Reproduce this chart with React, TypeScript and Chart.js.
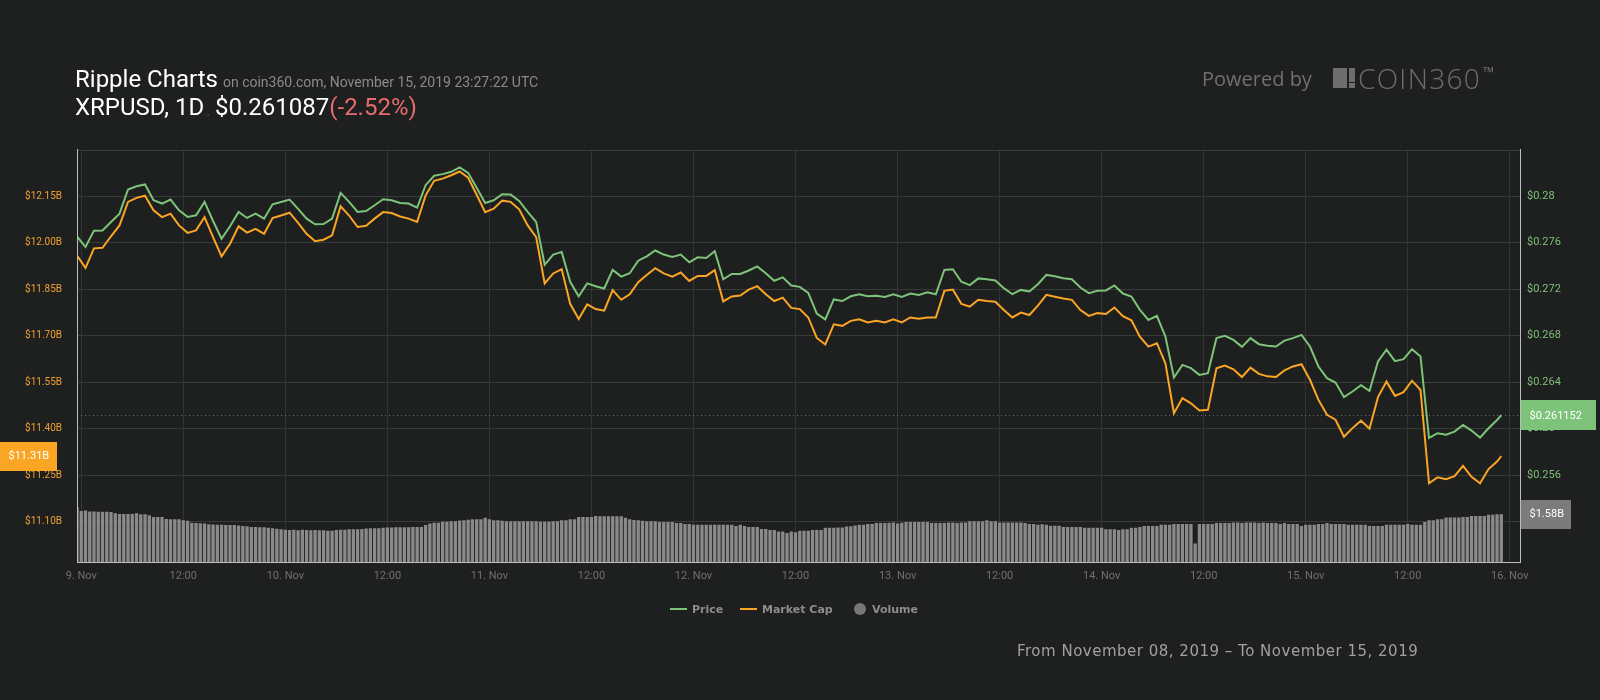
import React, { useEffect, useRef } from "react";
import { Chart, registerables } from "chart.js";

Chart.register(...registerables);

// ---------------- data ----------------
const seriesNames = ["Price", "Market Cap", "Volume"];

const xTickLabels = [
  "9. Nov", "12:00", "10. Nov", "12:00", "11. Nov", "12:00", "12. Nov", "12:00",
  "13. Nov", "12:00", "14. Nov", "12:00", "15. Nov", "12:00", "16. Nov",
];

const capTicksB = [11.1, 11.25, 11.4, 11.55, 11.7, 11.85, 12.0, 12.15];
const priceTicksUSD = [0.256, 0.26, 0.264, 0.268, 0.272, 0.276, 0.28];

// hourly samples, hours from 9 Nov 00:00 UTC: -0.5, 0.5, ... 166.5, then 167
const priceUSD = [
  0.27655, 0.27563, 0.27704, 0.27706, 0.27778, 0.2785, 0.28058, 0.28086, 0.28101, 0.27965,
  0.27937, 0.27971, 0.27879, 0.27822, 0.27836, 0.27951, 0.27787, 0.27634, 0.27741, 0.27865,
  0.27813, 0.2785, 0.27807, 0.27931, 0.27951, 0.27971, 0.27891, 0.27807, 0.27758, 0.27761,
  0.27807, 0.28029, 0.27951, 0.27865, 0.27873, 0.27922, 0.27974, 0.27965, 0.27942, 0.27937,
  0.27902, 0.28095, 0.28176, 0.2819, 0.2821, 0.28248, 0.28201, 0.28072, 0.27942, 0.27965,
  0.28017, 0.28014, 0.2796, 0.27865, 0.27778,
  0.2741, 0.27498, 0.27521, 0.27264, 0.27139, 0.2725, 0.27226, 0.27206, 0.27366, 0.27308,
  0.27337, 0.27445, 0.27483, 0.27533, 0.27498, 0.27477, 0.27498, 0.27431, 0.27474, 0.27469,
  0.27527, 0.27285, 0.27331, 0.27331, 0.27361, 0.27396, 0.27337, 0.27273, 0.27302, 0.27232,
  0.2722, 0.27168, 0.2699, 0.2694, 0.27112, 0.27098, 0.27139, 0.27156, 0.27139, 0.27144,
  0.27133, 0.27156, 0.27133, 0.27162, 0.2715, 0.27174, 0.27156, 0.27366, 0.27372, 0.27264,
  0.27235, 0.27293,
  0.27286, 0.27275, 0.27209, 0.27157, 0.27194, 0.2718, 0.27243, 0.27323, 0.27312, 0.27295,
  0.27286, 0.27214, 0.27166, 0.27186, 0.27189, 0.27232, 0.27163, 0.27137, 0.27022, 0.26936,
  0.26971, 0.26793, 0.2644, 0.26549, 0.26521, 0.26463, 0.26478, 0.26779, 0.26799, 0.26764,
  0.26704, 0.26779, 0.26727, 0.26713, 0.26707, 0.26758, 0.26779, 0.26807, 0.26707, 0.26535,
  0.26435, 0.26397,
  0.26271, 0.2632, 0.26374, 0.26325, 0.26578, 0.26679, 0.26581, 0.26598, 0.26684, 0.26621,
  0.2592, 0.25961, 0.25949, 0.25975, 0.26032, 0.25984, 0.25923, 0.26004, 0.26075, 0.261152,
];

const marketCapB = [
  11.959, 11.919, 11.982, 11.984, 12.021, 12.056, 12.132, 12.145, 12.152, 12.105,
  12.083, 12.094, 12.056, 12.032, 12.04, 12.083, 12.018, 11.956, 11.997, 12.053,
  12.033, 12.045, 12.029, 12.08, 12.088, 12.097, 12.064, 12.029, 12.005, 12.01,
  12.024, 12.118, 12.088, 12.051, 12.055, 12.078, 12.099, 12.096, 12.085, 12.078,
  12.067, 12.153, 12.2, 12.207, 12.218, 12.23, 12.21, 12.155, 12.099, 12.11,
  12.136, 12.132, 12.108, 12.056, 12.018,
  11.869, 11.901, 11.915, 11.803, 11.754, 11.801, 11.786, 11.781, 11.847, 11.816,
  11.834, 11.873, 11.896, 11.918, 11.901, 11.891, 11.904, 11.877, 11.893, 11.893,
  11.912, 11.811, 11.827, 11.83, 11.849, 11.86, 11.834, 11.812, 11.823, 11.79,
  11.786, 11.759, 11.693, 11.672, 11.737, 11.732, 11.748, 11.753, 11.743, 11.748,
  11.743, 11.753, 11.743, 11.759, 11.755, 11.759, 11.759, 11.845, 11.849, 11.803,
  11.794, 11.816,
  11.812, 11.81, 11.783, 11.759, 11.775, 11.767, 11.797, 11.832, 11.826, 11.82,
  11.816, 11.783, 11.764, 11.773, 11.77, 11.791, 11.763, 11.75, 11.697, 11.665,
  11.676, 11.611, 11.45, 11.499, 11.482, 11.459, 11.461, 11.595, 11.604, 11.592,
  11.567, 11.597, 11.577, 11.569, 11.567, 11.588, 11.601, 11.608, 11.558, 11.493,
  11.445, 11.429,
  11.374, 11.402, 11.426, 11.4, 11.502, 11.552, 11.506, 11.518, 11.555, 11.525,
  11.224, 11.243, 11.237, 11.247, 11.28, 11.245, 11.224, 11.27, 11.294, 11.312,
];

// half-hourly 24h volume (billions USD), hours -0.5, 0, 0.5 ... 167
const volumeB = [
  1.82, 1.69, 1.7, 1.67, 1.67, 1.66, 1.66, 1.66, 1.65, 1.61, 1.59, 1.59,
  1.59, 1.59, 1.61, 1.58, 1.58, 1.55, 1.49, 1.49, 1.49, 1.42, 1.41, 1.41,
  1.41, 1.38, 1.36, 1.3, 1.29, 1.28, 1.27, 1.25, 1.24, 1.23, 1.23, 1.22,
  1.22, 1.22, 1.21, 1.19, 1.18, 1.16, 1.16, 1.15, 1.15, 1.13, 1.12, 1.1,
  1.08, 1.07, 1.06, 1.07, 1.05, 1.07, 1.06, 1.05, 1.06, 1.05, 1.05, 1.03,
  1.03, 1.06, 1.07, 1.07, 1.08, 1.08, 1.08, 1.09, 1.11, 1.12, 1.12, 1.12,
  1.13, 1.14, 1.14, 1.15, 1.15, 1.15, 1.15, 1.16, 1.16, 1.16, 1.22, 1.27,
  1.3, 1.3, 1.33, 1.33, 1.35, 1.35, 1.37, 1.38, 1.4, 1.41, 1.41, 1.41,
  1.46, 1.41, 1.38, 1.38, 1.36, 1.35, 1.35, 1.35, 1.35, 1.35, 1.35, 1.35,
  1.35, 1.33, 1.33, 1.33, 1.35, 1.35, 1.38, 1.38, 1.41, 1.41, 1.49, 1.49,
  1.49, 1.49, 1.52, 1.51, 1.51, 1.51, 1.51, 1.51, 1.51, 1.46, 1.41, 1.39,
  1.38, 1.36, 1.35, 1.35, 1.35, 1.32, 1.32, 1.32, 1.32, 1.29, 1.29, 1.26,
  1.26, 1.23, 1.23, 1.23, 1.23, 1.23, 1.23, 1.23, 1.23, 1.23, 1.23, 1.19,
  1.23, 1.19, 1.16, 1.16, 1.16, 1.09, 1.09, 1.06, 1.06, 1.01, 1.01, 0.96,
  1.01, 0.98, 1.03, 1.03, 1.03, 1.06, 1.06, 1.06, 1.13, 1.13, 1.13, 1.14,
  1.14, 1.17, 1.18, 1.21, 1.23, 1.23, 1.26, 1.26, 1.29, 1.29, 1.29, 1.3,
  1.31, 1.27, 1.3, 1.32, 1.32, 1.32, 1.32, 1.32, 1.32, 1.29, 1.29, 1.29,
  1.29, 1.31, 1.31, 1.29, 1.31, 1.31, 1.35, 1.35, 1.35, 1.35, 1.38, 1.35,
  1.35, 1.31, 1.31, 1.31, 1.31, 1.31, 1.31, 1.29, 1.26, 1.26, 1.23, 1.25,
  1.23, 1.2, 1.2, 1.2, 1.16, 1.16, 1.16, 1.16, 1.16, 1.13, 1.13, 1.13,
  1.13, 1.13, 1.08, 1.08, 1.08, 1.06, 1.08, 1.08, 1.13, 1.13, 1.16, 1.19,
  1.19, 1.19, 1.19, 1.23, 1.23, 1.23, 1.26, 1.26, 1.26, 1.26, 1.26, 0.61,
  1.26, 1.26, 1.26, 1.26, 1.29, 1.29, 1.29, 1.29, 1.31, 1.31, 1.29, 1.31,
  1.31, 1.31, 1.29, 1.31, 1.29, 1.29, 1.29, 1.26, 1.29, 1.26, 1.26, 1.26,
  1.19, 1.23, 1.23, 1.23, 1.26, 1.26, 1.29, 1.26, 1.26, 1.26, 1.26, 1.23,
  1.23, 1.23, 1.23, 1.23, 1.19, 1.19, 1.19, 1.19, 1.23, 1.23, 1.23, 1.23,
  1.23, 1.26, 1.23, 1.23, 1.23, 1.32, 1.38, 1.38, 1.41, 1.41, 1.47, 1.47,
  1.47, 1.47, 1.49, 1.49, 1.52, 1.52, 1.52, 1.52, 1.56, 1.56, 1.58, 1.58,
];

// ---------------- style ----------------
const BG = "#1e1f1f";
const GRID = "#393a3a";
const VGRID = "#333434";
const AXIS_LINE = "#bdbdbd";
const GREEN = "#7dc47a";
const ORANGE = "#fba524";
const VOL = "#8a8a8a";
const FIRST_HOUR = -0.5;
const LAST_HOUR = 167;

const lineHour = (i: number) => Math.min(FIRST_HOUR + i, LAST_HOUR);
const volHour = (i: number) => FIRST_HOUR + i * 0.5;

const overlayPlugin = {
  id: "overlay",
  beforeDatasetsDraw(chart: any) {
    const { ctx, chartArea: a, scales } = chart;
    ctx.save();
    ctx.strokeStyle = GRID;
    ctx.lineWidth = 1;
    ctx.beginPath();
    ctx.moveTo(a.left, Math.round(a.top) + 0.5);
    ctx.lineTo(a.right, Math.round(a.top) + 0.5);
    ctx.stroke();
    const py = scales.yPrice.getPixelForValue(priceUSD[priceUSD.length - 1]);
    ctx.setLineDash([1, 3]);
    ctx.strokeStyle = "#6c6c6c";
    ctx.beginPath();
    ctx.moveTo(a.left, Math.round(py) + 0.5);
    ctx.lineTo(a.right, Math.round(py) + 0.5);
    ctx.stroke();
    ctx.restore();
  },
  afterDraw(chart: any) {
    const { ctx, chartArea: a, scales } = chart;
    const box = (x: number, yc: number, w: number, h: number, fill: string, text: string) => {
      ctx.save();
      ctx.fillStyle = fill;
      ctx.fillRect(x, Math.round(yc - h / 2), w, h);
      ctx.fillStyle = "#ffffff";
      ctx.font = "11px Roboto";
      ctx.textBaseline = "middle";
      ctx.textAlign = "left";
      ctx.fillText(text, x + 8.5, yc + 0.5);
      ctx.restore();
    };
    const lastPrice = priceUSD[priceUSD.length - 1];
    const lastCap = marketCapB[marketCapB.length - 1];
    const lastVol = volumeB[volumeB.length - 1];
    box(a.right + 1, scales.yPrice.getPixelForValue(lastPrice), 75, 30, GREEN, `$${lastPrice}`);
    box(0, scales.yCap.getPixelForValue(lastCap), 57, 29, ORANGE, `$${lastCap.toFixed(2)}B`);
    box(a.right + 1, scales.yVol.getPixelForValue(lastVol), 50, 29, "#7b7b7b", `$${lastVol.toFixed(2)}B`);
  },
};

export default function App() {
  const ref = useRef<HTMLCanvasElement>(null);

  useEffect(() => {
    if (!ref.current) return;
    Chart.defaults.font.family = "Roboto";
    const chart = new Chart(ref.current, {
      type: "line",
      data: {
        datasets: [
          {
            type: "line",
            label: seriesNames[0],
            data: priceUSD.map((v, i) => ({ x: lineHour(i), y: v })),
            yAxisID: "yPrice",
            borderColor: GREEN,
            borderWidth: 2,
            pointRadius: 0,
            tension: 0,
            order: 1,
          },
          {
            type: "line",
            label: seriesNames[1],
            data: marketCapB.map((v, i) => ({ x: lineHour(i), y: v })),
            yAxisID: "yCap",
            borderColor: ORANGE,
            borderWidth: 2,
            pointRadius: 0,
            tension: 0,
            order: 2,
          },
          {
            type: "bar",
            label: seriesNames[2],
            data: volumeB.map((v, i) => ({ x: volHour(i), y: v })),
            yAxisID: "yVol",
            backgroundColor: VOL,
            borderWidth: 0,
            barPercentage: 0.78,
            categoryPercentage: 1,
            order: 3,
          },
        ] as any,
      },
      options: {
        animation: false,
        responsive: false,
        layout: { padding: { top: 149.5, left: 0, right: 0, bottom: 0 } },
        plugins: { legend: { display: false }, tooltip: { enabled: false } },
        scales: {
          x: {
            type: "linear",
            min: -0.5,
            max: 169.2,
            offset: false,
            grid: { color: VGRID, drawTicks: false, offset: false },
            border: { display: true, color: AXIS_LINE, z: 1 },
            ticks: {
              color: "#707070",
              font: { size: 11 },
              padding: 8,
              autoSkip: false,
              maxRotation: 0,
              callback: (v: any) => xTickLabels[Math.round(Number(v) / 12)] ?? "",
            },
            afterBuildTicks: (s: any) => {
              s.ticks = xTickLabels.map((_, i) => ({ value: i * 12 }));
            },
            afterFit: (s: any) => {
              s.height = 138;
            },
          },
          yCap: {
            type: "linear",
            position: "left",
            min: 10.97,
            max: 12.301,
            grid: { color: GRID, drawTicks: false },
            border: { display: true, color: AXIS_LINE, z: 1 },
            ticks: {
              color: "#f0a032",
              font: { size: 10 },
              padding: 15,
              callback: (v: any) => `$${Number(v).toFixed(2)}B`,
            },
            afterBuildTicks: (s: any) => {
              s.ticks = capTicksB.map((v) => ({ value: v }));
            },
            afterFit: (s: any) => {
              s.width = 77;
            },
          },
          yPrice: {
            type: "linear",
            position: "right",
            min: 0.24853,
            max: 0.28402,
            grid: { display: false, drawTicks: false },
            border: { display: true, color: AXIS_LINE, z: 1 },
            ticks: {
              color: "#7fbf77",
              font: { size: 11 },
              padding: 7,
              callback: (v: any) => `$${Number(v)}`,
            },
            afterBuildTicks: (s: any) => {
              s.ticks = priceTicksUSD.map((v) => ({ value: v }));
            },
            afterFit: (s: any) => {
              s.width = 80;
            },
          },
          yVol: {
            type: "linear",
            display: false,
            min: 0,
            max: 13.64,
          },
        },
      } as any,
      plugins: [overlayPlugin],
    });
    return () => chart.destroy();
  }, []);

  const legendText: React.CSSProperties = {
    position: "absolute",
    top: 603.5,
    fontFamily: '"DejaVu Sans", sans-serif',
    fontWeight: 700,
    fontSize: 11,
    lineHeight: 1,
    color: "#8c8c8c",
    whiteSpace: "nowrap",
  };
  const logoGrey = "#6e6e6e";

  return (
    <div
      style={{
        position: "fixed",
        left: 0,
        top: 0,
        width: 1600,
        height: 700,
        background: BG,
        overflow: "hidden",
        fontFamily: "Roboto, sans-serif",
      }}
    >
      <canvas
        ref={ref}
        width={1600}
        height={700}
        style={{ position: "absolute", left: 0, top: 0, width: 1600, height: 700 }}
      />

      {/* title rows */}
      <div
        style={{
          position: "absolute",
          left: 75,
          top: 66.5,
          display: "flex",
          alignItems: "baseline",
          whiteSpace: "nowrap",
          lineHeight: 1,
        }}
      >
        <span style={{ fontSize: 24, color: "#ffffff" }}>Ripple Charts</span>
        <span style={{ fontSize: 14, color: "#8a8a8a", marginLeft: 5 }}>
          on coin360.com, November 15, 2019 23:27:22 UTC
        </span>
      </div>
      <div
        style={{
          position: "absolute",
          left: 75,
          top: 94.8,
          display: "flex",
          alignItems: "baseline",
          whiteSpace: "nowrap",
          lineHeight: 1,
        }}
      >
        <span style={{ fontSize: 24, color: "#ffffff" }}>XRPUSD, 1D</span>
        <span style={{ fontSize: 9, color: "#5a5a5a", marginLeft: 3 }}>,</span>
        <span style={{ fontSize: 24, color: "#ffffff", marginLeft: 6 }}>$0.261087</span>
        <span style={{ fontSize: 24, color: "#ea6b6b", marginLeft: 0 }}>(-2.52%)</span>
      </div>

      {/* powered by */}
      <div
        style={{
          position: "absolute",
          left: 1202,
          top: 69,
          fontFamily: '"Open Sans", sans-serif',
          fontSize: 20,
          lineHeight: 1,
          color: "#707070",
          whiteSpace: "nowrap",
        }}
      >
        Powered by
      </div>
      <div style={{ position: "absolute", left: 1333, top: 68, width: 14, height: 20, background: logoGrey }} />
      <div style={{ position: "absolute", left: 1349, top: 68, width: 6, height: 13.5, background: logoGrey }} />
      <div style={{ position: "absolute", left: 1349, top: 83, width: 6, height: 5, background: logoGrey }} />
      <div
        style={{
          position: "absolute",
          left: 1358,
          top: 63.5,
          fontFamily: '"Open Sans", sans-serif',
          fontWeight: 300,
          fontSize: 28,
          letterSpacing: 1.3,
          lineHeight: 1,
          color: logoGrey,
          whiteSpace: "nowrap",
        }}
      >
        COIN360
      </div>
      <div
        style={{
          position: "absolute",
          left: 1483,
          top: 65,
          fontFamily: '"Open Sans", sans-serif',
          fontSize: 15,
          lineHeight: 1,
          color: logoGrey,
        }}
      >
        ™
      </div>

      {/* legend */}
      <div style={{ position: "absolute", left: 670, top: 608, width: 17, height: 2, background: GREEN }} />
      <div style={{ ...legendText, left: 692 }}>{seriesNames[0]}</div>
      <div style={{ position: "absolute", left: 740, top: 608, width: 17, height: 2, background: ORANGE }} />
      <div style={{ ...legendText, left: 762 }}>{seriesNames[1]}</div>
      <div
        style={{
          position: "absolute",
          left: 853.5,
          top: 603,
          width: 12,
          height: 12,
          borderRadius: 6,
          background: "#777777",
        }}
      />
      <div style={{ ...legendText, left: 872 }}>{seriesNames[2]}</div>

      {/* date range */}
      <div
        style={{
          position: "absolute",
          left: 1017,
          top: 644,
          fontFamily: '"DejaVu Sans", sans-serif',
          fontSize: 15,
          letterSpacing: 0.5,
          lineHeight: 1,
          color: "#a0a0a0",
          whiteSpace: "nowrap",
        }}
      >
        From November 08, 2019 – To November 15, 2019
      </div>
    </div>
  );
}
